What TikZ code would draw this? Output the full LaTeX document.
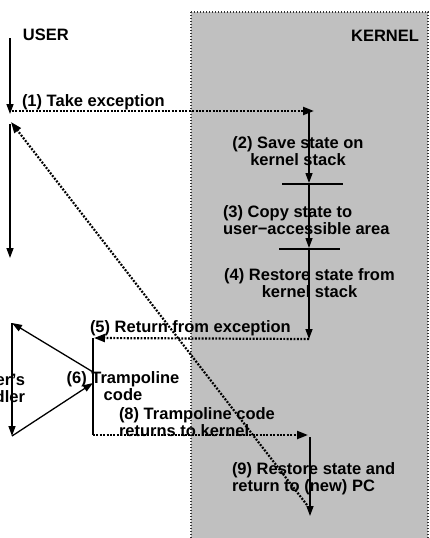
\documentclass[tikz,border=0pt]{standalone}
\usepackage{fontspec}
\setmainfont{Liberation Sans}
\usetikzlibrary{arrows.meta}
\definecolor{kerngray}{RGB}{192,192,192}
\begin{document}
\begin{tikzpicture}[x=1pt,y=-1pt,
  lbl/.style={font=\bfseries\fontsize{16.5}{16.7}\selectfont, inner sep=0pt, outer sep=0pt, text=black},
  flow/.style={line width=1.3pt, -{Triangle[length=10pt,width=7pt]}},
  plain/.style={line width=1.3pt},
  dots/.style={line width=2.2pt, dash pattern=on 1.9pt off 1.5pt, -{Triangle[length=11pt,width=8pt]}},
  kernbox/.style={fill=kerngray, draw=black!80, line width=1.2pt, dash pattern=on 1.2pt off 1.8pt}
]
\useasboundingbox (0,0) rectangle (430,538);
\clip (0,0) rectangle (430,538);

% kernel area
\path[kernbox] (191,12) rectangle (428,560);

% titles
\node[lbl, anchor=north west] (user) at (23,29) {USER};
\node[lbl, anchor=north east] (kernel) at (419,30) {KERNEL};

% coordinates
\coordinate (u0) at (10,38);
\coordinate (u1) at (10,114);
\coordinate (e1) at (12,111);
\coordinate (k1) at (309,111);
\coordinate (k1t) at (314,111);
\coordinate (k2) at (309,183);
\coordinate (k3) at (309,248);
\coordinate (k4) at (309,339);
\coordinate (b1l) at (282,184);
\coordinate (b1r) at (343,184);
\coordinate (b2l) at (279,249);
\coordinate (b2r) at (340,249);
\coordinate (t0) at (93,338);
\coordinate (t0t) at (94,338);
\coordinate (t1) at (93,435);
\coordinate (t1t) at (308,435);
\coordinate (k5) at (310,437);
\coordinate (k6) at (310,516);
\coordinate (d0) at (307,505);
\coordinate (d1) at (11,122);
\coordinate (u2) at (10,124);
\coordinate (u3) at (10,258);
\coordinate (h0) at (93,372);
\coordinate (h1) at (12,323);
\coordinate (h2) at (12,436);
\coordinate (h3) at (93,383);

% user thread
\draw[flow] (u0) -- (u1);
\draw[flow] (u2) -- (u3);

% (1) take exception
\draw[dots] (e1) -- (k1t);
\node[lbl, anchor=north west] (l1) at (22,95) {(1) Take exception};

% kernel thread
\draw[flow] (k1) -- (k2);
\draw[plain] (b1l) -- (b1r);
\draw[flow] (k2) -- (k3);
\draw[plain] (b2l) -- (b2r);
\draw[flow] (k3) -- (k4);

\node[lbl, anchor=north, align=center] (l2) at (298,137) {(2) Save state on\\kernel stack};
\node[lbl, anchor=north west, align=left] (l3) at (223,206) {(3) Copy state to\\user\textminus accessible area};
\node[lbl, anchor=north, align=center] (l4) at (309.5,269) {(4) Restore state from\\kernel stack};

% (5) return from exception
\draw[dots] (k4) -- (t0t);
\node[lbl, anchor=north west] (l5) at (90,321) {(5) Return from exception};

% trampoline
\draw[plain] (t0) -- (t1);
\node[lbl, anchor=north, align=center] (l6) at (123,372) {(6) Trampoline\\code};

% user's handler
\draw[flow] (h0) -- (h1);
\draw[flow] (h1) -- (h2);
\draw[flow] (h2) -- (h3);
\node[lbl, anchor=north east, align=right] (l7) at (25,374) {User's\\handler};

% (8) trampoline returns
\draw[dots] (t1) -- (t1t);
\node[lbl, anchor=north west, align=left] (l8) at (119,408) {(8) Trampoline code\\returns to kernel};

% (9) restore and return
\draw[flow] (k5) -- (k6);
\node[lbl, anchor=north west, align=left] (l9) at (232,463) {(9) Restore state and\\return to (new) PC};
\draw[dots] (d0) -- (d1);
\end{tikzpicture}
\end{document}
